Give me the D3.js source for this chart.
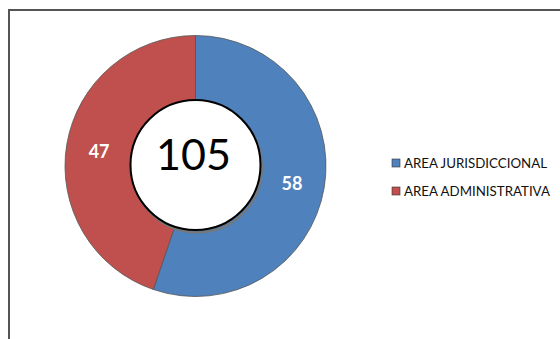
<!DOCTYPE html>
<html><head><meta charset="utf-8">
<script src="https://cdn.jsdelivr.net/npm/d3@7"></script>
<style>body{margin:0;background:#fff;} svg{display:block;}</style>
</head><body>
<script>
const categories = ["AREA JURISDICCIONAL", "AREA ADMINISTRATIVA"];
const values = [58, 47];
const colors = ["#4F81BD", "#C0504D"];
const total = d3.sum(values);

const W = 560, H = 339;
const svg = d3.select("body").append("svg").attr("width", W).attr("height", H);

// frame
svg.append("rect").attr("x", 9).attr("y", 10).attr("width", 600).attr("height", 400)
  .attr("fill", "#fff").attr("stroke", "#555").attr("stroke-width", 2);

const cx = 195.5, cy = 166, rOuter = 130.5, rInner = 65;
const g = svg.append("g").attr("transform", `translate(${cx},${cy})`);
const pie = d3.pie().sort(null).value(d => d.v);
const data = pie(categories.map((c, i) => ({c, v: values[i], col: colors[i]})));
const arc = d3.arc().innerRadius(rInner).outerRadius(rOuter);
const labelArc = d3.arc().innerRadius(rInner).outerRadius(rOuter);

g.selectAll("path.slice").data(data).join("path").attr("class", "slice")
  .attr("d", arc).attr("fill", d => d.data.col)
  .attr("stroke", "#555").attr("stroke-width", 0.8);

// inner circle shadow and circle
g.append("circle").attr("cx", 1.5).attr("cy", 1.5).attr("r", rInner).attr("fill", "none")
  .attr("stroke", "#777").attr("stroke-width", 2);
g.append("circle").attr("cx", 0).attr("cy", -1).attr("r", rInner).attr("fill", "#fff")
  .attr("stroke", "#000").attr("stroke-width", 2);

g.append("text").attr("x", -2).attr("y", -13).attr("text-anchor", "middle")
  .attr("dominant-baseline", "central")
  .attr("font-family", "Lato, 'Open Sans', sans-serif").attr("font-size", 43)
  .attr("fill", "#000").text(total);

g.selectAll("text.val").data(data).join("text").attr("class", "val")
  .attr("transform", d => { const c = labelArc.centroid(d); return `translate(${c[0]},${c[1]+1})`; })
  .attr("text-anchor", "middle").attr("dominant-baseline", "central")
  .attr("font-family", "Lato, 'Open Sans', sans-serif").attr("font-weight", "bold")
  .attr("font-size", 18).attr("fill", "#fff").text(d => d.data.v);

// legend
const leg = svg.append("g").attr("transform", "translate(392,163)");
const items = leg.selectAll("g").data(categories).join("g")
  .attr("transform", (d, i) => `translate(0,${i * 28})`);
items.append("rect").attr("x", 0).attr("y", -4).attr("width", 8).attr("height", 8)
  .attr("fill", (d, i) => colors[i]).attr("stroke", "#333").attr("stroke-width", 0.6);
items.append("text").attr("x", 12).attr("y", 0).attr("dominant-baseline", "central")
  .attr("font-family", "Lato, 'Open Sans', sans-serif").attr("font-size", 13.3)
  .attr("fill", "#111").text(d => d);
</script>
</body></html>
